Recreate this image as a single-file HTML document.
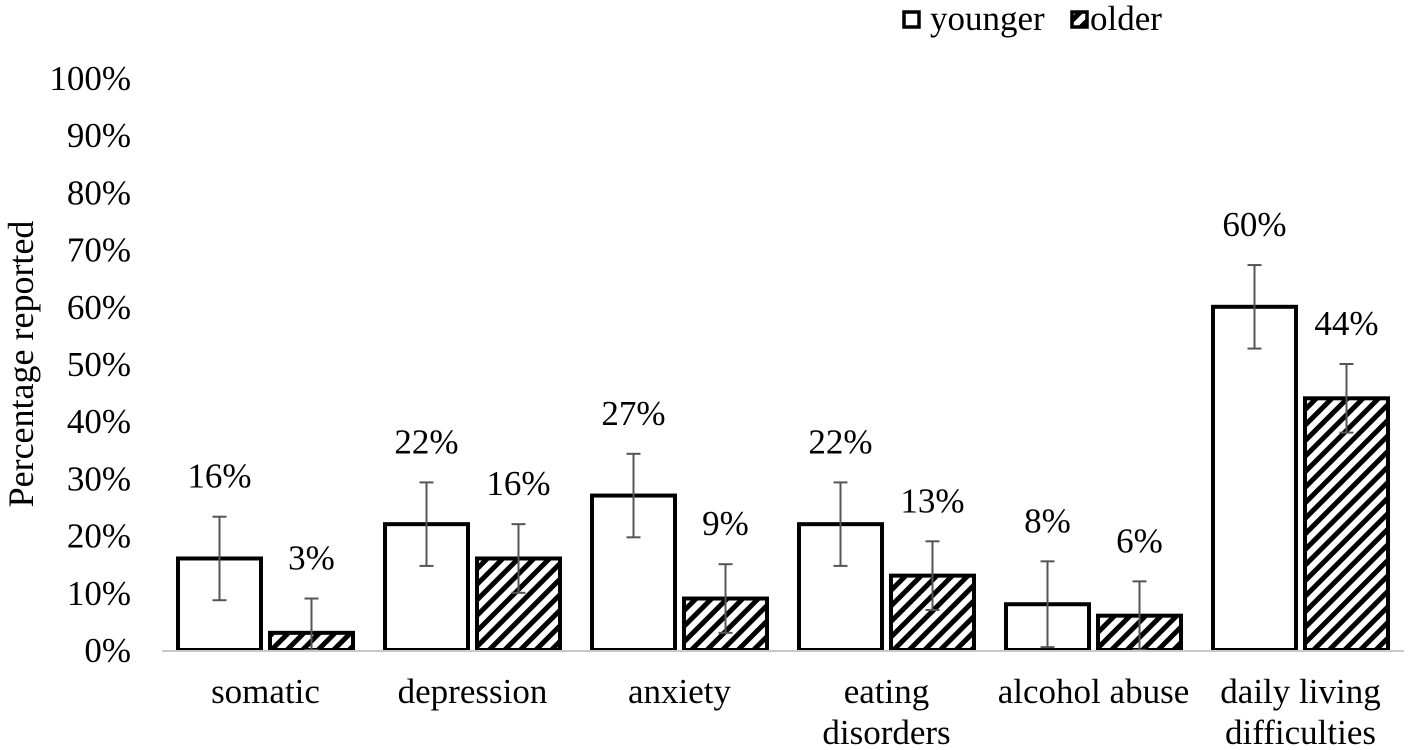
<!DOCTYPE html>
<html><head><meta charset="utf-8"><style>
body{margin:0;background:#fff;}
svg{display:block;font-family:"Liberation Serif",serif;}
</style></head><body>
<svg id="chart" width="1418" height="750" viewBox="0 0 1418 750">
<defs>
<pattern id="hatch" patternUnits="userSpaceOnUse" width="11" height="11" patternTransform="rotate(45)">
<rect width="11" height="11" fill="#fff"/><rect width="5" height="11" fill="#000"/>
</pattern>
</defs>
<g id="yaxis"></g>
<g id="bars"></g>
<g id="xaxis"></g>
<text transform="translate(33,364) rotate(-90)" text-anchor="middle" font-size="36">Percentage reported</text>
<g>
<g>
<rect x="904" y="12" width="15" height="15" fill="#fff" stroke="#000" stroke-width="3.5"/>
<text x="930" y="30" font-size="35">younger</text></g>
<g>
<rect x="1072" y="12" width="15" height="15" fill="url(#hatch)" stroke="#000" stroke-width="3.5"/>
<text x="1090" y="30" font-size="35">older</text></g>
</g>
</svg>
<script>
const categories=[["somatic"],["depression"],["anxiety"],["eating","disorders"],["alcohol abuse"],["daily living","difficulties"]];
const younger=[16,22,27,22,8,60];
const older=[3,16,9,13,6,44];
const errYounger=[7.3,7.3,7.3,7.3,7.5,7.3];
const errOlder=[6,6,6,6,6,6];
const ticks=[0,10,20,30,40,50,60,70,80,90,100];
const NS="http://www.w3.org/2000/svg";
const x0=162,catW=207,y0=650,yTop=78;
const y=v=>y0-(v/100)*(y0-yTop);
function mk(tag,attrs,parent){const e=document.createElementNS(NS,tag);for(const k in attrs)e.setAttribute(k,attrs[k]);parent.appendChild(e);return e;}
const ya=document.getElementById('yaxis'),bg=document.getElementById('bars'),xa=document.getElementById('xaxis');
ticks.forEach(t=>{const e=mk('text',{x:131,y:y(t)+12,'text-anchor':'end','font-size':35},ya);e.textContent=t+'%';

});
const base=mk('line',{x1:x0,x2:x0+catW*6,y1:y0+1,y2:y0+1,stroke:'#c8c8c8','stroke-width':2},xa);


categories.forEach((c,i)=>{
  const cx=x0+catW*i+catW/2;
  [[younger,errYounger,'#fff',-1,'younger'],[older,errOlder,'url(#hatch)',1,'older']].forEach(([vals,errs,fill,side,nm])=>{
    const v=vals[i],bx=side<0?cx-87.5:cx+4.5,bw=83,mid=bx+bw/2;
    const r=mk('rect',{x:bx,y:y(v),width:bw,height:y0-y(v),fill:fill,stroke:'#000','stroke-width':4},bg);
    
    
    const lo=Math.max(0,v-errs[i]),hi=v+errs[i];
    const g=mk('g',{stroke:'#555','stroke-width':2},bg);
    
    
    mk('line',{x1:mid,x2:mid,y1:y(lo),y2:y(hi)},g);
    mk('line',{x1:mid-7,x2:mid+7,y1:y(hi),y2:y(hi)},g);
    mk('line',{x1:mid-7,x2:mid+7,y1:y(lo),y2:y(lo)},g);
    const t=mk('text',{x:mid,y:y(hi)-29,'text-anchor':'middle','font-size':35},bg);
    t.textContent=v+'%';
    
    
  });
  c.forEach((ln,j)=>{const t=mk('text',{x:cx,y:703+j*41,'text-anchor':'middle','font-size':35},xa);t.textContent=ln;
    
    });
});
</script>
</body></html>
